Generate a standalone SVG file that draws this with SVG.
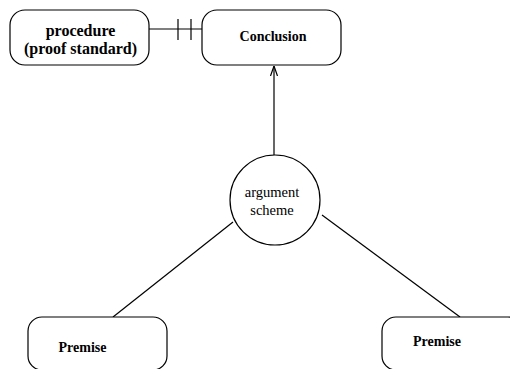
<svg xmlns="http://www.w3.org/2000/svg" width="510" height="369" viewBox="0 0 510 369">
<defs>
<style>
.box{fill:#fff;stroke:#000;stroke-width:1.2}
.edge{fill:none;stroke:#000;stroke-width:1.2}
text{font-family:'Liberation Serif','Times New Roman',serif;text-anchor:middle;fill:#000}
.b{font-weight:bold}
</style>
<marker id="open" viewBox="0 0 10 10" refX="10" refY="5" markerWidth="10" markerHeight="10" markerUnits="userSpaceOnUse" orient="auto">
<path d="M0,1.5 L10,5 L0,8.5" fill="none" stroke="#000" stroke-width="1.2"/>
</marker>
</defs>
<g id="connectors">
<line class="edge" x1="149" y1="29" x2="202" y2="29"/>
<line class="edge" x1="178" y1="19" x2="178" y2="40"/>
<line class="edge" x1="191" y1="19" x2="191" y2="40"/>
<line class="edge" x1="274" y1="155" x2="274" y2="66" marker-end="url(#open)"/>
<line class="edge" x1="233" y1="222" x2="113" y2="317"/>
<line class="edge" x1="322" y1="215" x2="460" y2="317"/>
</g>
<g id="procedure">
<rect class="box" x="10" y="10" width="139" height="55" rx="15"/>
<text class="b" x="80.5" y="35.5" font-size="16">procedure</text>
<text class="b" x="80.5" y="53.5" font-size="16">(proof standard)</text>
</g>
<g id="conclusion">
<rect class="box" x="202" y="10" width="139" height="55" rx="15"/>
<text class="b" x="273" y="41" font-size="14">Conclusion</text>
</g>
<g id="scheme">
<circle class="box" cx="275" cy="200" r="45"/>
<text x="272" y="197" font-size="14.5">argument</text>
<text x="272" y="215" font-size="14.5">scheme</text>
</g>
<g id="premise1">
<rect class="box" x="28" y="317" width="139" height="53" rx="14"/>
<text class="b" x="82.5" y="352" font-size="14">Premise</text>
</g>
<g id="premise2">
<rect class="box" x="382" y="317" width="140" height="53" rx="14"/>
<text class="b" x="437" y="346" font-size="14">Premise</text>
</g>
</svg>
